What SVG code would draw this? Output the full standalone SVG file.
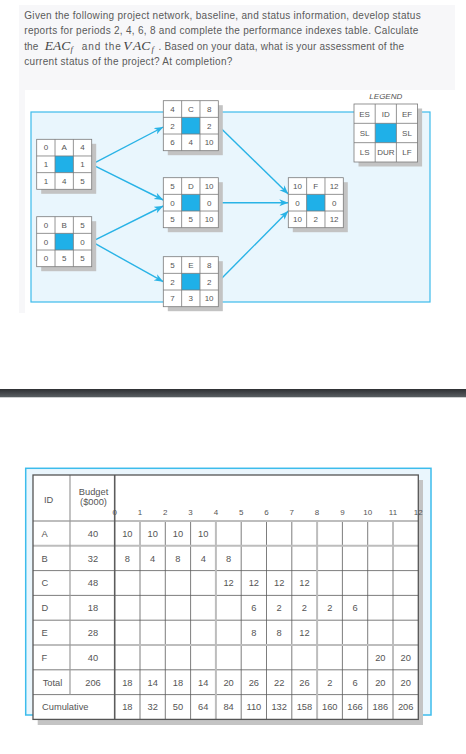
<svg xmlns="http://www.w3.org/2000/svg" width="466" height="754" viewBox="0 0 466 754">
<style>
.q{font-family:"Liberation Sans",Arial,sans-serif;font-size:10px;fill:#5a5a5a}
.m{font-family:"Liberation Serif","Times New Roman",serif;font-style:italic;font-size:13.5px;fill:#444}
.ms{font-family:"Liberation Serif","Times New Roman",serif;font-style:italic;font-size:8.5px;fill:#444}
.nt{font-family:"Liberation Sans",Arial,sans-serif;font-size:8px;fill:#555;text-anchor:middle}
.lt{font-family:"Liberation Sans",Arial,sans-serif;font-size:8px;fill:#555;text-anchor:middle}
.tt{font-family:"Liberation Sans",Arial,sans-serif;font-size:9.3px;fill:#555;text-anchor:middle}
.tl{font-family:"Liberation Sans",Arial,sans-serif;font-size:9.3px;fill:#555}
.ph{font-family:"Liberation Sans",Arial,sans-serif;font-size:8px;fill:#555;text-anchor:middle}
.cn{fill:none;stroke:#29b3e6;stroke-width:1.4}
.gd{stroke:#5c5c5c;stroke-width:0.8}
.gl{stroke:#bdbdbd;stroke-width:2}
</style>
<defs>
<marker id="ah" markerUnits="userSpaceOnUse" markerWidth="10" markerHeight="8" refX="9" refY="3.5" orient="auto">
<path d="M0,0 L9,3.5 L0,7 L2.5,3.5 z" fill="#29b3e6"/>
</marker>
<linearGradient id="bar" x1="0" y1="0" x2="0" y2="1">
<stop offset="0" stop-color="#2e3033"/>
<stop offset="1" stop-color="#5a5f63"/>
</linearGradient>
<g id="nf">
<rect x="4.5" y="4.5" width="55" height="50" fill="#c3c3c3"/>
<rect x="0" y="0" width="55" height="50" fill="#fff" stroke="#7a7a7a" stroke-width="0.8"/>
<rect x="18.33" y="16.67" width="18.33" height="16.67" fill="#1fb0e8"/>
<path d="M18.33,0V50M36.67,0V50M0,16.67H55M0,33.33H55" stroke="#7a7a7a" stroke-width="0.8" fill="none"/>
</g>
</defs>
<rect x="0" y="0" width="466" height="754" fill="#fff"/>
<rect x="19" y="5" width="436" height="85" fill="#f7f7f9"/>
<rect x="19" y="80" width="416" height="233" fill="#f7f7f9"/>
<rect x="25" y="90" width="410" height="223" fill="#fff"/>
<g id="question">
<text class="q" x="24.3" y="18.5" textLength="396.4">Given the following project network, baseline, and status information, develop status</text>
<text class="q" x="24.3" y="34" textLength="394">reports for periods 2, 4, 6, 8 and complete the performance indexes table. Calculate</text>
<text class="q" x="24.3" y="49.5">the</text>
<text class="m" x="44.7" y="49.5">EAC</text><text class="ms" x="70.5" y="52">f</text>
<text class="q" x="81.7" y="49.5" textLength="39">and the</text>
<text class="m" x="123.3" y="49.5">V</text><text class="m" x="133" y="49.5">AC</text><text class="ms" x="151.5" y="52">f</text>
<text class="q" x="158.5" y="49.5" textLength="245.5">. Based on your data, what is your assessment of the</text>
<text class="q" x="24.3" y="65" textLength="208">current status of the project? At completion?</text>
</g>
<rect x="31" y="112" width="399" height="190" fill="#e9f6fd" stroke="#3dbbeb" stroke-width="1.2"/>
<g id="connectors">
<line class="cn" x1="91.7" y1="164.3" x2="163.3" y2="127" marker-end="url(#ah)"/>
<line class="cn" x1="91.7" y1="164.3" x2="163.3" y2="200" marker-end="url(#ah)"/>
<line class="cn" x1="91.7" y1="241.7" x2="163.3" y2="206" marker-end="url(#ah)"/>
<line class="cn" x1="91.7" y1="241.7" x2="163.3" y2="281.7" marker-end="url(#ah)"/>
<line class="cn" x1="218.3" y1="125.7" x2="288.3" y2="194" marker-end="url(#ah)"/>
<line class="cn" x1="218.3" y1="202.7" x2="288.3" y2="202.7" marker-end="url(#ah)"/>
<line class="cn" x1="218.3" y1="281.7" x2="288.3" y2="211" marker-end="url(#ah)"/>
</g>
<g id="nodeA" transform="translate(36.7,139.3)">
<use href="#nf"/>
<text class="nt" x="9.17" y="11.2">0</text><text class="nt" x="27.5" y="11.2">A</text><text class="nt" x="45.83" y="11.2">4</text>
<text class="nt" x="9.17" y="27.9">1</text><text class="nt" x="45.83" y="27.9">1</text>
<text class="nt" x="9.17" y="44.5">1</text><text class="nt" x="27.5" y="44.5">4</text><text class="nt" x="45.83" y="44.5">5</text>
</g>
<g id="nodeB" transform="translate(36.7,216.7)">
<use href="#nf"/>
<text class="nt" x="9.17" y="11.2">0</text><text class="nt" x="27.5" y="11.2">B</text><text class="nt" x="45.83" y="11.2">5</text>
<text class="nt" x="9.17" y="27.9">0</text><text class="nt" x="45.83" y="27.9">0</text>
<text class="nt" x="9.17" y="44.5">0</text><text class="nt" x="27.5" y="44.5">5</text><text class="nt" x="45.83" y="44.5">5</text>
</g>
<g id="nodeC" transform="translate(163.3,100.7)">
<use href="#nf"/>
<text class="nt" x="9.17" y="11.2">4</text><text class="nt" x="27.5" y="11.2">C</text><text class="nt" x="45.83" y="11.2">8</text>
<text class="nt" x="9.17" y="27.9">2</text><text class="nt" x="45.83" y="27.9">2</text>
<text class="nt" x="9.17" y="44.5">6</text><text class="nt" x="27.5" y="44.5">4</text><text class="nt" x="45.83" y="44.5">10</text>
</g>
<g id="nodeD" transform="translate(163.3,177.7)">
<use href="#nf"/>
<text class="nt" x="9.17" y="11.2">5</text><text class="nt" x="27.5" y="11.2">D</text><text class="nt" x="45.83" y="11.2">10</text>
<text class="nt" x="9.17" y="27.9">0</text><text class="nt" x="45.83" y="27.9">0</text>
<text class="nt" x="9.17" y="44.5">5</text><text class="nt" x="27.5" y="44.5">5</text><text class="nt" x="45.83" y="44.5">10</text>
</g>
<g id="nodeE" transform="translate(163.3,256.7)">
<use href="#nf"/>
<text class="nt" x="9.17" y="11.2">5</text><text class="nt" x="27.5" y="11.2">E</text><text class="nt" x="45.83" y="11.2">8</text>
<text class="nt" x="9.17" y="27.9">2</text><text class="nt" x="45.83" y="27.9">2</text>
<text class="nt" x="9.17" y="44.5">7</text><text class="nt" x="27.5" y="44.5">3</text><text class="nt" x="45.83" y="44.5">10</text>
</g>
<g id="nodeF" transform="translate(288.3,177.7)">
<use href="#nf"/>
<text class="nt" x="9.17" y="11.2">10</text><text class="nt" x="27.5" y="11.2">F</text><text class="nt" x="45.83" y="11.2">12</text>
<text class="nt" x="9.17" y="27.9">0</text><text class="nt" x="45.83" y="27.9">0</text>
<text class="nt" x="9.17" y="44.5">10</text><text class="nt" x="27.5" y="44.5">2</text><text class="nt" x="45.83" y="44.5">12</text>
</g>
<g id="legend" transform="translate(354,104)">
<text class="lt" x="31.8" y="-5" font-style="italic">LEGEND</text>
<rect x="4.5" y="4.5" width="63.6" height="58" fill="#c3c3c3"/>
<rect x="0" y="0" width="63.6" height="58" fill="#fff" stroke="#7a7a7a" stroke-width="0.8"/>
<rect x="21.2" y="19.33" width="21.2" height="19.33" fill="#1fb0e8"/>
<path d="M21.2,0V58M42.4,0V58M0,19.33H63.6M0,38.67H63.6" stroke="#7a7a7a" stroke-width="0.8" fill="none"/>
<text class="lt" x="10.6" y="12.6">ES</text><text class="lt" x="31.8" y="12.6">ID</text><text class="lt" x="53" y="12.6">EF</text>
<text class="lt" x="10.6" y="31.9">SL</text><text class="lt" x="53" y="31.9">SL</text>
<text class="lt" x="10.6" y="51.2">LS</text><text class="lt" x="31.8" y="51.2">DUR</text><text class="lt" x="53" y="51.2">LF</text>
</g>
<rect x="0" y="389" width="466" height="8.3" fill="url(#bar)"/>
<g id="table">
<rect x="25.7" y="468.3" width="405.3" height="246.7" fill="#eaf6fd" stroke="#3cbcec" stroke-width="1.5"/>
<rect x="418.3" y="480" width="4.7" height="245" fill="#c4c4c4"/>
<rect x="37.7" y="719.4" width="385.3" height="5.6" fill="#c4c4c4"/>
<rect x="33" y="475" width="385.3" height="244.4" fill="#fff"/>
<path class="gd" d="M33,570.6H418.3M33,595.4H418.3M33,620.2H418.3M33,669.8H418.3M33,694.6H418.3"/>
<path class="gd" d="M140,521V719.4M165.3,521V719.4M190.6,521V719.4M241.2,521V719.4M266.5,521V719.4M291.8,521V719.4M342.4,521V719.4M367.7,521V719.4M393,521V719.4"/>
<path class="gl" d="M33,521H418.3M33,545.8H418.3M33,645H418.3M215.9,521V719.4M317.1,521V719.4"/>
<path d="M70,475V694.6" stroke="#9a9a9a" stroke-width="1.2"/>
<path d="M114.7,475V719.4" stroke="#5c5c5c" stroke-width="1.6"/>
<rect x="33" y="475" width="385.3" height="244.4" fill="none" stroke="#555" stroke-width="1.3"/>
<text class="tl" x="44" y="503">ID</text>
<text class="tt" x="93.5" y="495">Budget</text>
<text class="tt" x="93.5" y="505">($000)</text>
<g class="ph">
<text x="114.7" y="515">0</text><text x="140" y="515">1</text><text x="165.3" y="515">2</text><text x="190.6" y="515">3</text><text x="215.9" y="515">4</text><text x="241.2" y="515">5</text><text x="266.5" y="515">6</text><text x="291.8" y="515">7</text><text x="317.1" y="515">8</text><text x="342.4" y="515">9</text><text x="367.7" y="515">10</text><text x="393" y="515">11</text><text x="418.3" y="515">12</text>
</g>
<text class="tl" x="41.5" y="536.8">A</text><text class="tl" x="41.5" y="561.6">B</text><text class="tl" x="41.5" y="586.4">C</text><text class="tl" x="41.5" y="611.2">D</text><text class="tl" x="41.5" y="636">E</text><text class="tl" x="41.5" y="660.8">F</text>
<text class="tl" x="42.7" y="685.6">Total</text><text class="tl" x="42" y="710.4">Cumulative</text>
<text class="tt" x="93" y="536.8">40</text><text class="tt" x="93" y="561.6">32</text><text class="tt" x="93" y="586.4">48</text><text class="tt" x="93" y="611.2">18</text><text class="tt" x="93" y="636">28</text><text class="tt" x="93" y="660.8">40</text><text class="tt" x="93" y="685.6">206</text>
<g class="tt">
<text x="127.35" y="536.8">10</text><text x="152.65" y="536.8">10</text><text x="177.95" y="536.8">10</text><text x="203.25" y="536.8">10</text>
<text x="127.35" y="561.6">8</text><text x="152.65" y="561.6">4</text><text x="177.95" y="561.6">8</text><text x="203.25" y="561.6">4</text><text x="228.55" y="561.6">8</text>
<text x="228.55" y="586.4">12</text><text x="253.85" y="586.4">12</text><text x="279.15" y="586.4">12</text><text x="304.45" y="586.4">12</text>
<text x="253.85" y="611.2">6</text><text x="279.15" y="611.2">2</text><text x="304.45" y="611.2">2</text><text x="329.75" y="611.2">2</text><text x="355.05" y="611.2">6</text>
<text x="253.85" y="636">8</text><text x="279.15" y="636">8</text><text x="304.45" y="636">12</text>
<text x="380.35" y="660.8">20</text><text x="405.65" y="660.8">20</text>
<text x="127.35" y="685.6">18</text><text x="152.65" y="685.6">14</text><text x="177.95" y="685.6">18</text><text x="203.25" y="685.6">14</text><text x="228.55" y="685.6">20</text><text x="253.85" y="685.6">26</text><text x="279.15" y="685.6">22</text><text x="304.45" y="685.6">26</text><text x="329.75" y="685.6">2</text><text x="355.05" y="685.6">6</text><text x="380.35" y="685.6">20</text><text x="405.65" y="685.6">20</text>
<text x="127.35" y="710.4">18</text><text x="152.65" y="710.4">32</text><text x="177.95" y="710.4">50</text><text x="203.25" y="710.4">64</text><text x="228.55" y="710.4">84</text><text x="253.85" y="710.4">110</text><text x="279.15" y="710.4">132</text><text x="304.45" y="710.4">158</text><text x="329.75" y="710.4">160</text><text x="355.05" y="710.4">166</text><text x="380.35" y="710.4">186</text><text x="405.65" y="710.4">206</text>
</g>
</g>
</svg>
